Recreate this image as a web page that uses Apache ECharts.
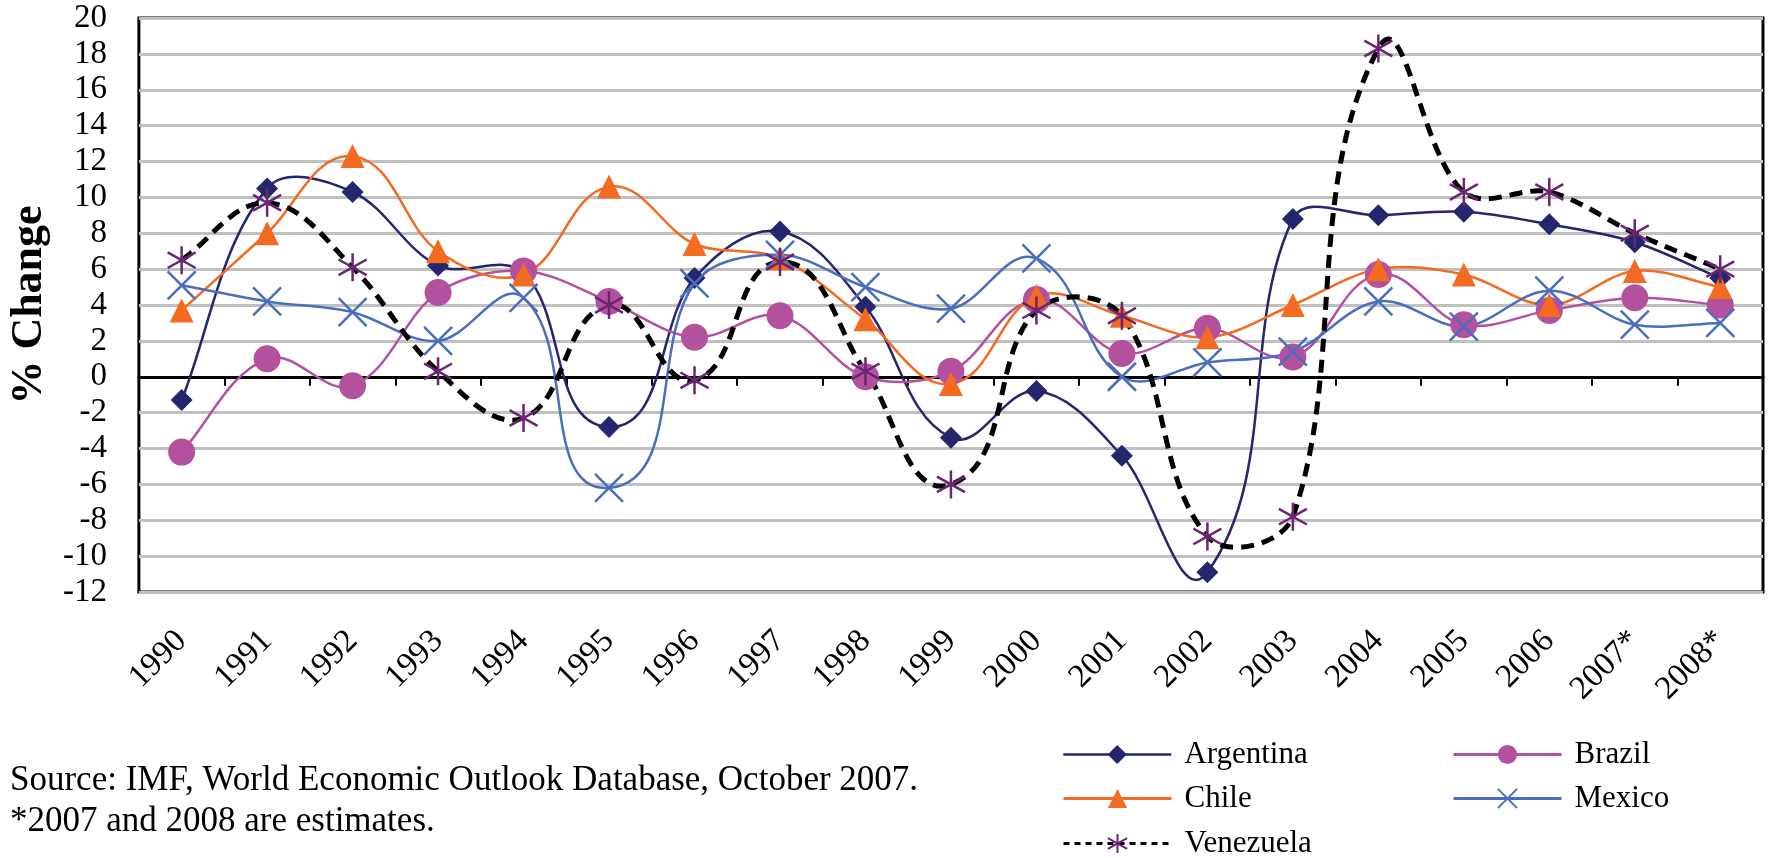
<!DOCTYPE html>
<html>
<head>
<meta charset="utf-8">
<script src="https://cdn.jsdelivr.net/npm/echarts@6/dist/echarts.min.js"></script>
<style>
  html, body { margin: 0; padding: 0; background: #fff; }
  #chart { width: 1768px; height: 858px; }
</style>
</head>
<body>
<div id="chart"></div>
<script>
// categories and values
var years = ['1990', '1991', '1992', '1993', '1994', '1995', '1996', '1997', '1998', '1999',
  '2000', '2001', '2002', '2003', '2004', '2005', '2006', '2007*', '2008*'];
var argentina = [-1.3, 10.5, 10.3, 6.2, 5.8, -2.8, 5.5, 8.1, 3.9, -3.4, -0.8, -4.4, -10.9, 8.8, 9.0, 9.2, 8.5, 7.5, 5.5];
var brazil = [-4.2, 1.0, -0.5, 4.7, 5.9, 4.2, 2.2, 3.4, 0.0, 0.3, 4.3, 1.3, 2.7, 1.1, 5.7, 2.9, 3.7, 4.4, 4.0];
var chile = [3.7, 8.0, 12.3, 7.0, 5.7, 10.6, 7.4, 6.6, 3.2, -0.4, 4.5, 3.4, 2.2, 4.0, 6.0, 5.7, 4.0, 5.9, 5.0];
var mexico = [5.1, 4.2, 3.6, 2.0, 4.4, -6.2, 5.2, 6.8, 5.0, 3.8, 6.6, 0.0, 0.8, 1.4, 4.2, 2.8, 4.8, 2.9, 3.0];
var venezuela = [6.5, 9.7, 6.1, 0.3, -2.3, 4.0, -0.2, 6.4, 0.3, -6.0, 3.7, 3.4, -8.9, -7.8, 18.3, 10.3, 10.3, 8.0, 6.0];
var sourceLines = ['Source: IMF, World Economic Outlook Database, October 2007.', '*2007 and 2008 are estimates.'];

var FONT = 'Liberation Serif';
var crossPath = 'path://M0,0L10,10M0,10L10,0';
var starPath = 'path://M5,0L5,10M0,2.2L10,7.8M0,7.8L10,2.2';

var chart = echarts.init(document.getElementById('chart'));

// excel style smoothed line: tangent along neighbours, handle = third of the segment, in pixels
function curve(values, color, width, dash) {
  return function (params, api) {
    if (params.dataIndex !== 0) return null;
    var p = values.map(function (v, i) { return api.coord([i, v]); });
    function handle(a, b, len) {
      var dx = b[0] - a[0], dy = b[1] - a[1];
      var l = Math.sqrt(dx * dx + dy * dy) || 1;
      return [dx / l * len / 3, dy / l * len / 3];
    }
    var d = 'M' + p[0][0] + ',' + p[0][1];
    for (var i = 0; i < p.length - 1; i++) {
      var p0 = p[i - 1] || p[i];
      var p1 = p[i];
      var p2 = p[i + 1];
      var p3 = p[i + 2] || p[i + 1];
      var seg = Math.sqrt(Math.pow(p2[0] - p1[0], 2) + Math.pow(p2[1] - p1[1], 2));
      var h1 = handle(p0, p2, seg);
      var h2 = handle(p1, p3, seg);
      d += 'C' + (p1[0] + h1[0]) + ',' + (p1[1] + h1[1]) + ',' +
        (p2[0] - h2[0]) + ',' + (p2[1] - h2[1]) + ',' + p2[0] + ',' + p2[1];
    }
    return {
      type: 'path',
      silent: true,
      shape: { pathData: d },
      style: { fill: 'none', stroke: color, lineWidth: width, lineDash: dash || null }
    };
  };
}

function lineSeries(name, values, color, width, dash) {
  return {
    name: name + ' line',
    type: 'custom',
    data: values.map(function (v, i) { return [i, v]; }),
    encode: { x: 0, y: 1 },
    renderItem: curve(values, color, width, dash),
    clip: true
  };
}

function markSeries(name, values, symbol, size, itemStyle) {
  return {
    name: name,
    type: 'line',
    data: values,
    symbol: symbol,
    symbolSize: size,
    itemStyle: itemStyle,
    lineStyle: { opacity: 0 }
  };
}

function legendAt(name, x, y, lineStyle) {
  return {
    data: [name],
    left: x,
    top: y,
    padding: 0,
    itemWidth: 108,
    itemHeight: 24,
    itemGap: 0,
    selectedMode: false,
    lineStyle: lineStyle,
    textStyle: { fontFamily: FONT, fontSize: 31, color: '#000', padding: [0, 0, 0, 8] }
  };
}

var option = {
  animation: false,
  backgroundColor: '#fff',
  textStyle: { fontFamily: FONT },
  grid: {
    show: true,
    left: 137,
    right: 5,
    top: 18,
    bottom: 266,
    borderColor: '#000',
    borderWidth: 3
  },
  legend: [
    legendAt('Argentina', 1062, 739, { color: '#25266e', width: 2.5, opacity: 1 }),
    legendAt('Chile', 1062, 783, { color: '#f36a21', width: 3, opacity: 1 }),
    legendAt('Venezuela', 1062, 828, { color: '#000', width: 3, type: [6, 5], opacity: 1 }),
    legendAt('Brazil', 1452, 739, { color: '#b4519f', width: 3, opacity: 1 }),
    legendAt('Mexico', 1452, 783, { color: '#4a6dbd', width: 3, opacity: 1 })
  ],
  xAxis: [{
    type: 'category',
    data: years,
    position: 'bottom',
    axisLine: { show: false, onZero: false },
    axisTick: { show: false },
    axisLabel: { rotate: 45, margin: 44, fontFamily: FONT, fontSize: 33, color: '#000', interval: 0 }
  }, {
    // the black zero line with its ticks
    type: 'category',
    data: years,
    position: 'top',
    axisLine: { show: true, onZero: true, lineStyle: { color: '#000', width: 3 } },
    axisTick: { show: true, inside: true, length: 9, lineStyle: { color: '#000', width: 2 } },
    axisLabel: { show: false }
  }],
  yAxis: {
    type: 'value',
    min: -12,
    max: 20,
    interval: 2,
    name: '% Change',
    nameLocation: 'middle',
    nameGap: 80,
    nameTextStyle: { fontFamily: FONT, fontSize: 44, fontWeight: 'bold', color: '#000' },
    axisLine: { show: false },
    axisTick: { show: false },
    axisLabel: { margin: 32, fontFamily: FONT, fontSize: 33, color: '#000' },
    splitLine: { lineStyle: { color: '#c0c0c0', width: 3 } }
  },
  series: [
    lineSeries('Argentina', argentina, '#25266e', 2.5),
    markSeries('Argentina', argentina, 'diamond', 22, { color: '#25266e' }),
    lineSeries('Brazil', brazil, '#b4519f', 2.5),
    markSeries('Brazil', brazil, 'circle', 27, { color: '#b4519f' }),
    lineSeries('Chile', chile, '#f36a21', 2.5),
    markSeries('Chile', chile, 'triangle', 24, { color: '#f36a21' }),
    lineSeries('Mexico', mexico, '#4a6dbd', 2.5),
    markSeries('Mexico', mexico, crossPath, 28, { color: 'rgba(0,0,0,0)', borderColor: '#4a6dbd', borderWidth: 2.5 }),
    lineSeries('Venezuela', venezuela, '#000', 5, [13, 8]),
    markSeries('Venezuela', venezuela, starPath, 28, { color: 'rgba(0,0,0,0)', borderColor: '#6b2572', borderWidth: 2.5 })
  ],
  graphic: [{
    type: 'text',
    left: 10,
    top: 763,
    style: { text: sourceLines[0], font: '35px "Liberation Serif"', fill: '#000' }
  }, {
    type: 'text',
    left: 10,
    top: 804,
    style: { text: sourceLines[1], font: '35px "Liberation Serif"', fill: '#000' }
  }]
};

chart.setOption(option);
</script>
</body>
</html>
